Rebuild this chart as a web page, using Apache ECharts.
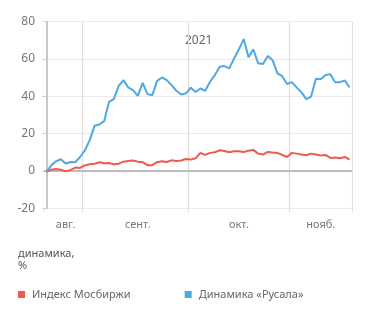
<!DOCTYPE html>
<html>
<head>
<meta charset="utf-8">
<script src="https://cdn.jsdelivr.net/npm/echarts@6/dist/echarts.min.js"></script>
<style>
html, body { margin: 0; padding: 0; background: #fff; }
#chart { width: 371px; height: 315px; }
</style>
</head>
<body>
<div id="chart"></div>
<script>
// торговые дни: конец авг. 2021 - середина нояб. 2021
var seriesNames = ['Индекс Мосбиржи', 'Динамика «Русала»'];
var moexData = [-0.5, 0.7, 1.1, 0.7, -0.2, 0.4, 1.8, 1.6, 3.0, 3.6, 3.9, 4.7, 4.1, 4.3, 3.6, 3.9,
	5.0, 5.4, 5.6, 5.0, 4.7, 3.1, 3.1, 4.7, 5.2, 4.8, 5.7, 5.4, 5.6, 6.4, 6.1, 6.8,
	9.7, 8.6, 9.7, 10.0, 11.1, 10.7, 10.0, 10.6, 10.6, 10.2, 10.9, 11.3, 9.3, 8.8, 10.2, 9.9,
	9.7, 8.6, 7.5, 9.7, 9.3, 8.8, 8.4, 9.3, 8.8, 8.3, 8.6, 7.0, 7.2, 6.8, 7.5, 6.1];
var rusalData = [-0.5, 3.0, 5.2, 6.3, 4.0, 4.8, 4.7, 7.5, 11.1, 16.5, 24.2, 24.9, 26.7, 37.0, 38.5, 45.5,
	48.7, 44.8, 43.3, 40.3, 47.2, 41.2, 40.6, 48.3, 50.1, 48.7, 46.0, 43.0, 41.0, 41.6, 44.6, 42.3,
	44.2, 43.0, 47.8, 51.4, 55.8, 56.2, 55.0, 60.3, 65.2, 70.7, 60.9, 65.2, 57.7, 57.3, 61.6, 59.4,
	52.3, 50.8, 46.6, 47.6, 44.8, 42.1, 38.5, 39.9, 49.4, 49.1, 51.4, 51.9, 47.5, 47.6, 48.5, 44.8];
// границы месяцев (между торговыми днями) и подписи месяцев
var monthBounds = [-0.5, 7.5, 29.5, 50.5, 63.5];
var monthLabelPos = [4, 19, 40, 57];
var monthLabels = ['авг.', 'сент.', 'окт.', 'нояб.'];
var yTicks = [-20, 0, 20, 40, 60, 80];

function toPoints(arr) {
	return arr.map(function(v, i) { return [i, v]; });
}

var myChart = echarts.init(document.getElementById('chart'));

// вертикальные линии сетки по границам месяцев
var gridLines = monthBounds.slice(1).map(function(b) {
	return { xAxis: b, lineStyle: { color: '#dedede', width: 1.2 } };
});
gridLines.push({ yAxis: 0, lineStyle: { color: '#bdbdbd', width: 2 } });

var option = {
	animation: false,
	textStyle: { fontFamily: 'Noto Sans' },
	grid: { left: 44, right: 19, top: 21.7, bottom: 106.7, containLabel: false },
	legend: {
		left: 13,
		top: 284,
		icon: 'rect',
		itemWidth: 7,
		itemHeight: 7,
		itemGap: 54,
		textStyle: { color: '#666', fontSize: 11, padding: [0, 0, 0, 2] },
		data: seriesNames
	},
	graphic: [
		{
			type: 'text',
			left: 185,
			top: 35,
			style: { text: '2021', fill: '#666', fontSize: 12, fontFamily: 'Noto Sans' }
		},
		{
			type: 'text',
			left: 18,
			top: 248,
			style: { text: 'динамика,\n%', fill: '#555', fontSize: 11, lineHeight: 12, fontFamily: 'Noto Sans' }
		}
	],
	xAxis: {
		type: 'value',
		min: monthBounds[0],
		max: monthBounds[monthBounds.length - 1],
		axisLine: { show: false, onZero: false },
		axisTick: {
			show: true,
			length: 4,
			customValues: monthBounds,
			lineStyle: { color: '#dedede' }
		},
		splitLine: { show: false },
		axisLabel: {
			customValues: monthLabelPos,
			formatter: function(value) {
				var k = monthLabelPos.indexOf(value);
				return k >= 0 ? monthLabels[k] : '';
			},
			color: '#777',
			fontSize: 11,
			margin: 11
		}
	},
	yAxis: {
		type: 'value',
		min: yTicks[0],
		max: yTicks[yTicks.length - 1],
		interval: 20,
		axisLine: { show: true, lineStyle: { color: '#b5b5b5', width: 1.5 } },
		axisTick: { show: true, length: 4, lineStyle: { color: '#d0d0d0' } },
		splitLine: { lineStyle: { color: '#ebebeb', width: 1 } },
		axisLabel: { color: '#777', fontSize: 12, margin: 9 }
	},
	series: [
		{
			name: seriesNames[0],
			type: 'line',
			data: toPoints(moexData),
			symbol: 'none',
			color: '#ec5b4e',
			lineStyle: { width: 2 },
			z: 3,
			markLine: {
				silent: true,
				symbol: 'none',
				label: { show: false },
				lineStyle: { type: 'solid' },
				data: gridLines,
				z: 1
			}
		},
		{
			name: seriesNames[1],
			type: 'line',
			data: toPoints(rusalData),
			symbol: 'none',
			color: '#4ea8e2',
			lineStyle: { width: 2 },
			z: 4
		}
	]
};

myChart.setOption(option);

window.addEventListener('resize', function() {
	myChart.resize();
});
</script>
</body>
</html>
